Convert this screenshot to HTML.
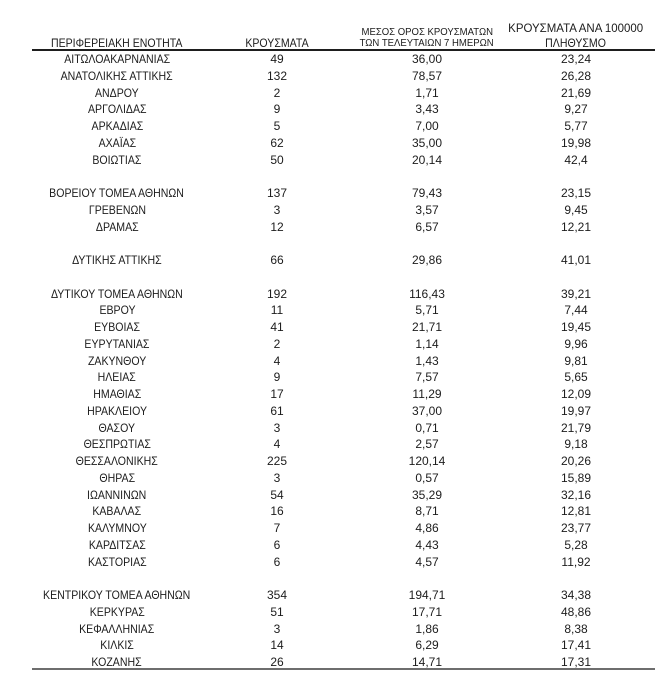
<!DOCTYPE html>
<html>
<head>
<meta charset="utf-8">
<style>
  html, body { margin:0; padding:0; background:#fff; }
  body { width:655px; height:682px; position:relative; overflow:hidden;
         font-family:"Liberation Sans", "DejaVu Sans", sans-serif; color:#1c1c1c; }
  .t { position:absolute; width:240px; text-align:center; font-size:12px; line-height:14px; white-space:nowrap; }
  .t span { display:inline-block; transform:scaleX(0.88); }
  .c1 { left:-3px; }
  .c2 { left:157px; }
  .c3 { left:307px; }
  .c4 { left:456px; }
  .h3 { font-size:10.5px; line-height:12px; }
  .h3 span { transform:scaleX(0.91); }
  .h4a span { transform:scaleX(0.955); }
  .line1 { position:absolute; left:32px; width:623px; top:49px; height:1.5px; background:#1e1e1e; }
  .line2 { position:absolute; left:32px; width:623px; top:667.5px; height:2px; background:#6e6e6e; }
</style>
</head>
<body>
<!-- headers -->
<div class="t c1" style="top:36px"><span>ΠΕΡΙΦΕΡΕΙΑΚΗ ΕΝΟΤΗΤΑ</span></div>
<div class="t c2" style="top:36px"><span>ΚΡΟΥΣΜΑΤΑ</span></div>
<div class="t c3 h3" style="top:26px"><span>ΜΕΣΟΣ ΟΡΟΣ ΚΡΟΥΣΜΑΤΩΝ</span></div>
<div class="t c3 h3" style="top:37px"><span>ΤΩΝ ΤΕΛΕΥΤΑΙΩΝ 7 ΗΜΕΡΩΝ</span></div>
<div class="t c4 h4a" style="top:20.5px"><span>ΚΡΟΥΣΜΑΤΑ ΑΝΑ 100000</span></div>
<div class="t c4" style="top:36px"><span>ΠΛΗΘΥΣΜΟ</span></div>
<div class="line1"></div>

<!-- row 0 y=59 -->
<div class="t c1" style="top:52px"><span>ΑΙΤΩΛΟΑΚΑΡΝΑΝΙΑΣ</span></div>
<div class="t c2" style="top:52px">49</div>
<div class="t c3" style="top:52px">36,00</div>
<div class="t c4" style="top:52px">23,24</div>
<!-- row 1 -->
<div class="t c1" style="top:68.75px"><span>ΑΝΑΤΟΛΙΚΗΣ ΑΤΤΙΚΗΣ</span></div>
<div class="t c2" style="top:68.75px">132</div>
<div class="t c3" style="top:68.75px">78,57</div>
<div class="t c4" style="top:68.75px">26,28</div>
<!-- row 2 -->
<div class="t c1" style="top:85.5px"><span>ΑΝΔΡΟΥ</span></div>
<div class="t c2" style="top:85.5px">2</div>
<div class="t c3" style="top:85.5px">1,71</div>
<div class="t c4" style="top:85.5px">21,69</div>
<!-- row 3 -->
<div class="t c1" style="top:102.25px"><span>ΑΡΓΟΛΙΔΑΣ</span></div>
<div class="t c2" style="top:102.25px">9</div>
<div class="t c3" style="top:102.25px">3,43</div>
<div class="t c4" style="top:102.25px">9,27</div>
<!-- row 4 -->
<div class="t c1" style="top:119px"><span>ΑΡΚΑΔΙΑΣ</span></div>
<div class="t c2" style="top:119px">5</div>
<div class="t c3" style="top:119px">7,00</div>
<div class="t c4" style="top:119px">5,77</div>
<!-- row 5 -->
<div class="t c1" style="top:135.75px"><span>ΑΧΑΪΑΣ</span></div>
<div class="t c2" style="top:135.75px">62</div>
<div class="t c3" style="top:135.75px">35,00</div>
<div class="t c4" style="top:135.75px">19,98</div>
<!-- row 6 -->
<div class="t c1" style="top:152.5px"><span>ΒΟΙΩΤΙΑΣ</span></div>
<div class="t c2" style="top:152.5px">50</div>
<div class="t c3" style="top:152.5px">20,14</div>
<div class="t c4" style="top:152.5px">42,4</div>
<!-- row 8 -->
<div class="t c1" style="top:186px"><span>ΒΟΡΕΙΟΥ ΤΟΜΕΑ ΑΘΗΝΩΝ</span></div>
<div class="t c2" style="top:186px">137</div>
<div class="t c3" style="top:186px">79,43</div>
<div class="t c4" style="top:186px">23,15</div>
<!-- row 9 -->
<div class="t c1" style="top:202.75px"><span>ΓΡΕΒΕΝΩΝ</span></div>
<div class="t c2" style="top:202.75px">3</div>
<div class="t c3" style="top:202.75px">3,57</div>
<div class="t c4" style="top:202.75px">9,45</div>
<!-- row 10 -->
<div class="t c1" style="top:219.5px"><span>ΔΡΑΜΑΣ</span></div>
<div class="t c2" style="top:219.5px">12</div>
<div class="t c3" style="top:219.5px">6,57</div>
<div class="t c4" style="top:219.5px">12,21</div>
<!-- row 12 -->
<div class="t c1" style="top:253px"><span>ΔΥΤΙΚΗΣ ΑΤΤΙΚΗΣ</span></div>
<div class="t c2" style="top:253px">66</div>
<div class="t c3" style="top:253px">29,86</div>
<div class="t c4" style="top:253px">41,01</div>
<!-- row 14 -->
<div class="t c1" style="top:286.5px"><span>ΔΥΤΙΚΟΥ ΤΟΜΕΑ ΑΘΗΝΩΝ</span></div>
<div class="t c2" style="top:286.5px">192</div>
<div class="t c3" style="top:286.5px">116,43</div>
<div class="t c4" style="top:286.5px">39,21</div>
<!-- row 15 -->
<div class="t c1" style="top:303.25px"><span>ΕΒΡΟΥ</span></div>
<div class="t c2" style="top:303.25px">11</div>
<div class="t c3" style="top:303.25px">5,71</div>
<div class="t c4" style="top:303.25px">7,44</div>
<!-- row 16 -->
<div class="t c1" style="top:320px"><span>ΕΥΒΟΙΑΣ</span></div>
<div class="t c2" style="top:320px">41</div>
<div class="t c3" style="top:320px">21,71</div>
<div class="t c4" style="top:320px">19,45</div>
<!-- row 17 -->
<div class="t c1" style="top:336.75px"><span>ΕΥΡΥΤΑΝΙΑΣ</span></div>
<div class="t c2" style="top:336.75px">2</div>
<div class="t c3" style="top:336.75px">1,14</div>
<div class="t c4" style="top:336.75px">9,96</div>
<!-- row 18 -->
<div class="t c1" style="top:353.5px"><span>ΖΑΚΥΝΘΟΥ</span></div>
<div class="t c2" style="top:353.5px">4</div>
<div class="t c3" style="top:353.5px">1,43</div>
<div class="t c4" style="top:353.5px">9,81</div>
<!-- row 19 -->
<div class="t c1" style="top:370.25px"><span>ΗΛΕΙΑΣ</span></div>
<div class="t c2" style="top:370.25px">9</div>
<div class="t c3" style="top:370.25px">7,57</div>
<div class="t c4" style="top:370.25px">5,65</div>
<!-- row 20 -->
<div class="t c1" style="top:387px"><span>ΗΜΑΘΙΑΣ</span></div>
<div class="t c2" style="top:387px">17</div>
<div class="t c3" style="top:387px">11,29</div>
<div class="t c4" style="top:387px">12,09</div>
<!-- row 21 -->
<div class="t c1" style="top:403.75px"><span>ΗΡΑΚΛΕΙΟΥ</span></div>
<div class="t c2" style="top:403.75px">61</div>
<div class="t c3" style="top:403.75px">37,00</div>
<div class="t c4" style="top:403.75px">19,97</div>
<!-- row 22 -->
<div class="t c1" style="top:420.5px"><span>ΘΑΣΟΥ</span></div>
<div class="t c2" style="top:420.5px">3</div>
<div class="t c3" style="top:420.5px">0,71</div>
<div class="t c4" style="top:420.5px">21,79</div>
<!-- row 23 -->
<div class="t c1" style="top:437.25px"><span>ΘΕΣΠΡΩΤΙΑΣ</span></div>
<div class="t c2" style="top:437.25px">4</div>
<div class="t c3" style="top:437.25px">2,57</div>
<div class="t c4" style="top:437.25px">9,18</div>
<!-- row 24 -->
<div class="t c1" style="top:454px"><span>ΘΕΣΣΑΛΟΝΙΚΗΣ</span></div>
<div class="t c2" style="top:454px">225</div>
<div class="t c3" style="top:454px">120,14</div>
<div class="t c4" style="top:454px">20,26</div>
<!-- row 25 -->
<div class="t c1" style="top:470.75px"><span>ΘΗΡΑΣ</span></div>
<div class="t c2" style="top:470.75px">3</div>
<div class="t c3" style="top:470.75px">0,57</div>
<div class="t c4" style="top:470.75px">15,89</div>
<!-- row 26 -->
<div class="t c1" style="top:487.5px"><span>ΙΩΑΝΝΙΝΩΝ</span></div>
<div class="t c2" style="top:487.5px">54</div>
<div class="t c3" style="top:487.5px">35,29</div>
<div class="t c4" style="top:487.5px">32,16</div>
<!-- row 27 -->
<div class="t c1" style="top:504.25px"><span>ΚΑΒΑΛΑΣ</span></div>
<div class="t c2" style="top:504.25px">16</div>
<div class="t c3" style="top:504.25px">8,71</div>
<div class="t c4" style="top:504.25px">12,81</div>
<!-- row 28 -->
<div class="t c1" style="top:521px"><span>ΚΑΛΥΜΝΟΥ</span></div>
<div class="t c2" style="top:521px">7</div>
<div class="t c3" style="top:521px">4,86</div>
<div class="t c4" style="top:521px">23,77</div>
<!-- row 29 -->
<div class="t c1" style="top:537.75px"><span>ΚΑΡΔΙΤΣΑΣ</span></div>
<div class="t c2" style="top:537.75px">6</div>
<div class="t c3" style="top:537.75px">4,43</div>
<div class="t c4" style="top:537.75px">5,28</div>
<!-- row 30 -->
<div class="t c1" style="top:554.5px"><span>ΚΑΣΤΟΡΙΑΣ</span></div>
<div class="t c2" style="top:554.5px">6</div>
<div class="t c3" style="top:554.5px">4,57</div>
<div class="t c4" style="top:554.5px">11,92</div>
<!-- row 32 -->
<div class="t c1" style="top:588px"><span>ΚΕΝΤΡΙΚΟΥ ΤΟΜΕΑ ΑΘΗΝΩΝ</span></div>
<div class="t c2" style="top:588px">354</div>
<div class="t c3" style="top:588px">194,71</div>
<div class="t c4" style="top:588px">34,38</div>
<!-- row 33 -->
<div class="t c1" style="top:604.75px"><span>ΚΕΡΚΥΡΑΣ</span></div>
<div class="t c2" style="top:604.75px">51</div>
<div class="t c3" style="top:604.75px">17,71</div>
<div class="t c4" style="top:604.75px">48,86</div>
<!-- row 34 -->
<div class="t c1" style="top:621.5px"><span>ΚΕΦΑΛΛΗΝΙΑΣ</span></div>
<div class="t c2" style="top:621.5px">3</div>
<div class="t c3" style="top:621.5px">1,86</div>
<div class="t c4" style="top:621.5px">8,38</div>
<!-- row 35 -->
<div class="t c1" style="top:638.25px"><span>ΚΙΛΚΙΣ</span></div>
<div class="t c2" style="top:638.25px">14</div>
<div class="t c3" style="top:638.25px">6,29</div>
<div class="t c4" style="top:638.25px">17,41</div>
<!-- row 36 -->
<div class="t c1" style="top:655px"><span>ΚΟΖΑΝΗΣ</span></div>
<div class="t c2" style="top:655px">26</div>
<div class="t c3" style="top:655px">14,71</div>
<div class="t c4" style="top:655px">17,31</div>

<div class="line2"></div>
</body>
</html>
